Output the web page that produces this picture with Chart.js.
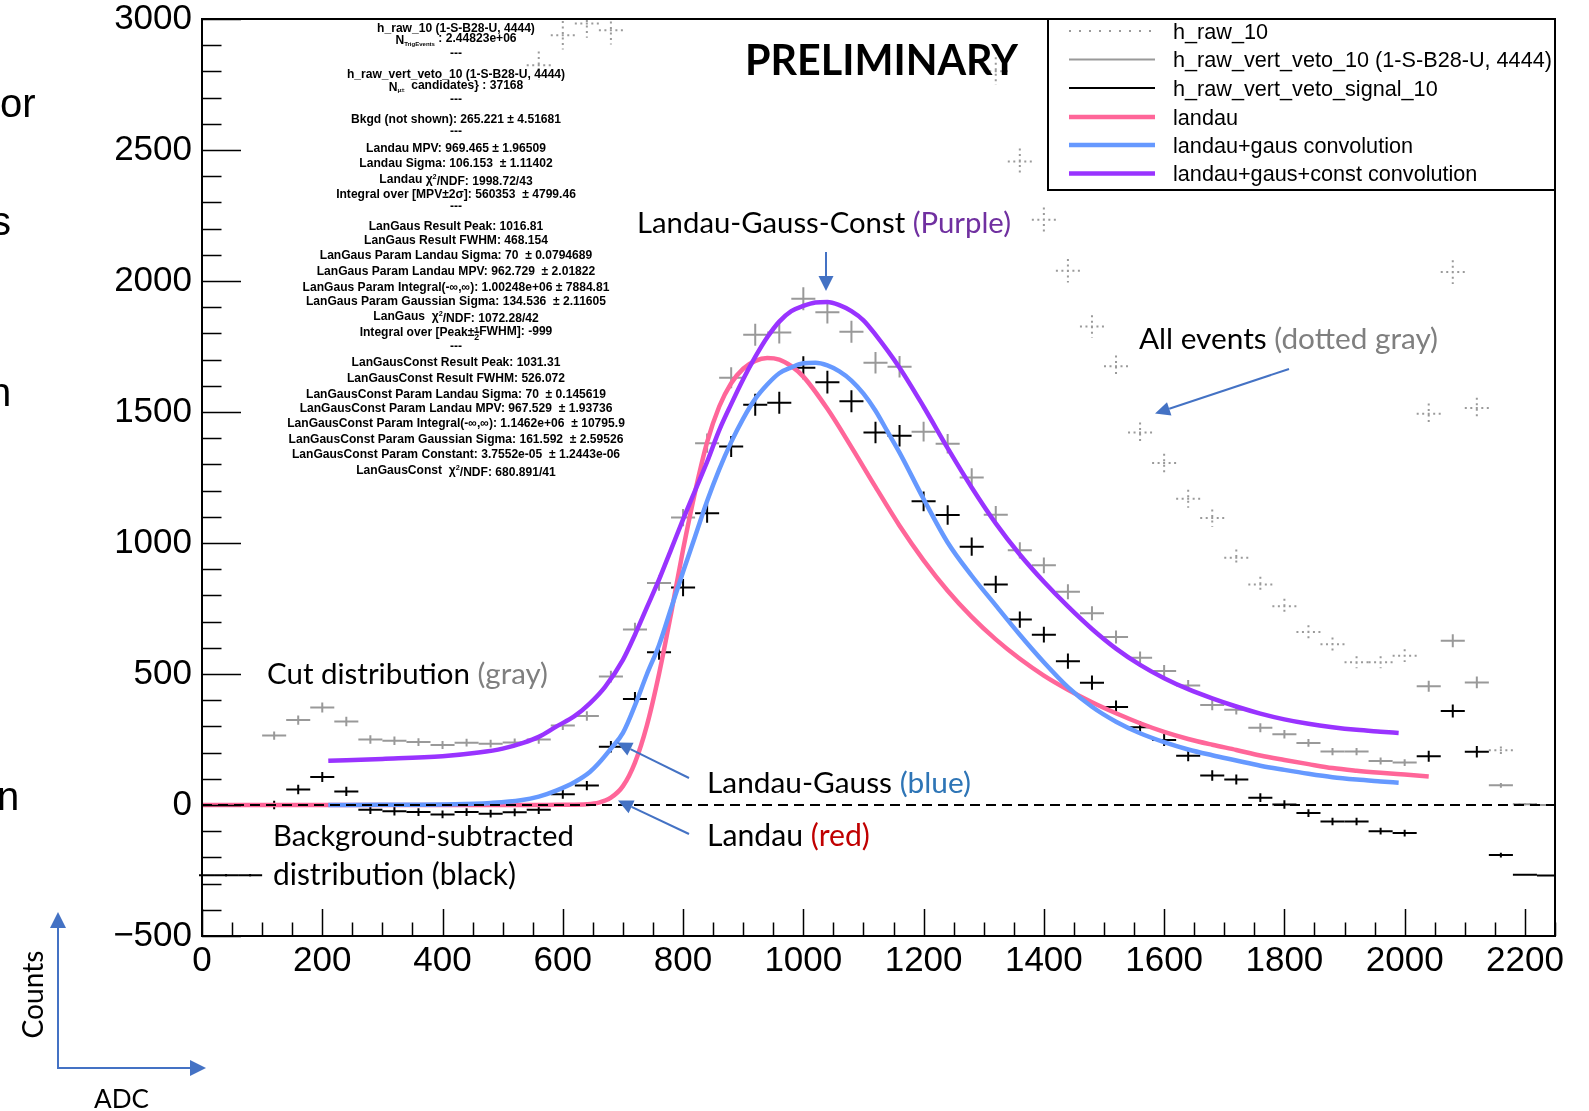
<!DOCTYPE html>
<html>
<head>
<meta charset="utf-8">
<title>Landau fits</title>
<script src="https://cdn.jsdelivr.net/npm/chart.js@4.4.1/dist/chart.umd.min.js"></script>
<style>
  html, body { margin: 0; padding: 0; background: #fff; }
  #page { position: relative; width: 1589px; height: 1111px; overflow: hidden; }
  #plot { position: absolute; left: 0; top: 0; }
  #notes { position: absolute; left: 0; top: 0; pointer-events: none; }
</style>
</head>
<body>
<div id="page">
  <canvas id="plot" width="1589" height="1111"></canvas>
  <svg id="notes" width="1589" height="1111" xmlns="http://www.w3.org/2000/svg"></svg>
</div>
<script>
// bin centres (ADC), bin width 40
const binX = [0, 40, 80, 120, 160, 200, 240, 280, 320, 360, 400, 440, 480, 520, 560, 600, 640, 680,
  720, 760, 800, 840, 880, 920, 960, 1000, 1040, 1080, 1120, 1160, 1200, 1240, 1280, 1320, 1360,
  1400, 1440, 1480, 1520, 1560, 1600, 1640, 1680, 1720, 1760, 1800, 1840, 1880, 1920, 1960, 2000,
  2040, 2080, 2120, 2160, 2200, 2240];

// gray crosses: h_raw_vert_veto_10
const cutCounts = [null, null, null, 265, 324, 372, 319, 250, 245, 240, 229, 238, 234, 239, 250, 303,
  340, 490, 670, 847, 1097, 1381, 1631, 1795, 1803, 1932, 1881, 1806, 1688, 1673, 1425, 1379, 1250,
  1108, 972, 915, 814, 732, 641, 562, 511, 456, 382, 364, 295, 270, 237, 204, 204, 168, 162, 453,
  627, 468, 75, 3, 0];

// black crosses: h_raw_vert_veto_signal_10
const signalCounts = [-268, -268, -268, 0, 59, 107, 52, -18, -24, -27, -36, -27, -33, -28, -18, 41,
  74, 222, 405, 583, 830, 1114, 1368, 1528, 1535, 1669, 1614, 1541, 1422, 1409, 1159, 1107, 986,
  842, 708, 650, 549, 467, 374, 297, 248, 188, 113, 97, 28, 2, -31, -63, -63, -100, -107, 186, 359,
  203, -191, -266, -269];

// dotted gray crosses: h_raw_10 (off scale bins left empty)
const allCounts = [null, null, null, null, null, null, null, null, null, null, null, null, null,
  null, 2823, 2938, 2983, 2957, null, null, null, null, null, null, null, null, null, null, null,
  null, null, null, null, 2801, 2456, 2234, 2039, 1826, 1675, 1422, 1305, 1169, 1095, 944, 842, 759,
  660, 614, 545, 545, 570, 1493, 2034, 1515, 209, 3, null];

// vertical error bar half heights
const binErr = [5, 5, 5, 16, 18, 19, 18, 16, 16, 15, 15, 15, 15, 15, 16, 17, 18, 22, 26, 29, 33, 37,
  40, 42, 42, 44, 43, 42, 41, 41, 38, 37, 35, 33, 31, 30, 29, 27, 25, 24, 23, 21, 20, 19, 17, 16,
  15, 14, 14, 13, 13, 21, 25, 22, 9, 2, 2];
const allErr = [0, 0, 0, 0, 0, 0, 0, 0, 0, 0, 0, 0, 0, 0, 53, 54, 55, 54, 0, 0, 0, 0, 0, 0, 0, 0, 0,
  0, 0, 0, 0, 0, 0, 53, 50, 47, 45, 43, 41, 38, 36, 34, 33, 31, 29, 28, 26, 25, 23, 23, 24, 39, 45,
  39, 14, 2, 0];

// fit curves
const landauX = [0, 560, 600, 640, 660, 680, 700, 720, 740, 760, 780, 800, 820, 840, 860, 880, 900,
  920, 940, 960, 980, 1000, 1040, 1080, 1120, 1160, 1200, 1240, 1280, 1320, 1360, 1400, 1440, 1480,
  1520, 1560, 1600, 1640, 1680, 1720, 1760, 1800, 1840, 1880, 1920, 1960, 2000, 2040];
const landauY = [0, 0, 1, 3, 9, 28, 72, 162, 305, 500, 730, 975, 1195, 1385, 1520, 1610, 1665,
  1695, 1706, 1700, 1675, 1635, 1512, 1366, 1214, 1066, 934, 818, 718, 632, 558, 494, 440, 392, 350,
  312, 279, 252, 230, 210, 189, 172, 156, 141, 131, 123, 116, 109];

const langausX = [210, 300, 420, 480, 530, 560, 590, 620, 645, 660, 680, 700, 720, 740, 760, 780,
  800, 820, 840, 860, 880, 900, 920, 940, 960, 980, 1000, 1020, 1040, 1060, 1080, 1100, 1120, 1140,
  1160, 1200, 1240, 1280, 1320, 1360, 1400, 1440, 1480, 1520, 1560, 1600, 1640, 1680, 1720, 1760,
  1800, 1840, 1880, 1920, 1960, 1990];
const langausY = [0, 1, 3, 8, 18, 32, 56, 88, 126, 160, 215, 275, 380, 500, 610, 750, 890, 1025,
  1160, 1280, 1385, 1475, 1550, 1605, 1648, 1670, 1686, 1688, 1678, 1655, 1620, 1570, 1505, 1425,
  1345, 1168, 1002, 875, 762, 650, 545, 450, 375, 318, 274, 240, 212, 190, 170, 150, 134, 119, 106,
  97, 90, 85];

const langausConstX = [210, 300, 400, 460, 500, 534, 560, 589, 620, 645, 670, 700, 720, 740, 760,
  780, 800, 820, 840, 860, 880, 900, 920, 940, 960, 980, 1000, 1020, 1040, 1060, 1080, 1100, 1120,
  1160, 1200, 1240, 1280, 1320, 1360, 1400, 1440, 1480, 1520, 1560, 1600, 1640, 1680, 1720, 1760,
  1800, 1840, 1880, 1920, 1960, 1990];
const langausConstY = [169, 176, 186, 200, 215, 237, 260, 299, 340, 388, 450, 554, 650, 755, 860,
  975, 1090, 1200, 1310, 1430, 1530, 1625, 1710, 1785, 1845, 1885, 1905, 1918, 1920, 1908, 1885,
  1850, 1795, 1669, 1520, 1362, 1212, 1075, 956, 852, 758, 672, 597, 535, 484, 442, 407, 376, 349,
  327, 310, 297, 287, 280, 275];

const xTicks = [0, 200, 400, 600, 800, 1000, 1200, 1400, 1600, 1800, 2000, 2200];
const yTicks = [-500, 0, 500, 1000, 1500, 2000, 2500, 3000];

const seriesNames = ['h_raw_10', 'h_raw_vert_veto_10 (1-S-B28-U, 4444)', 'h_raw_vert_veto_signal_10',
  'landau', 'landau+gaus convolution', 'landau+gaus+const convolution'];

const statsLines = [
  [32, 'h_raw_10 (1-S-B28-U, 4444)'],
  [44, 'N_{TrigEvents} : 2.44823e+06'],
  [57, '---'],
  [77.5, 'h_raw_vert_veto_10 (1-S-B28-U, 4444)'],
  [90.5, 'N_{\u03bc\u00b1}  candidates} : 37168'],
  [103, '---'],
  [122.5, 'Bkgd (not shown): 265.221 \u00b1 4.51681'],
  [135, '---'],
  [151.5, 'Landau MPV: 969.465 \u00b1 1.96509'],
  [166.5, 'Landau Sigma: 106.153  \u00b1 1.11402'],
  [182.5, 'Landau \u03c7^{2}/NDF: 1998.72/43'],
  [197.5, 'Integral over [MPV\u00b12\u03c3]: 560353  \u00b1 4799.46'],
  [210, '---'],
  [229.5, 'LanGaus Result Peak: 1016.81'],
  [243.5, 'LanGaus Result FWHM: 468.154'],
  [258.5, 'LanGaus Param Landau Sigma: 70  \u00b1 0.0794689'],
  [274.5, 'LanGaus Param Landau MPV: 962.729  \u00b1 2.01822'],
  [291, 'LanGaus Param Integral(-\u221e,\u221e): 1.00248e+06 \u00b1 7884.81'],
  [305, 'LanGaus Param Gaussian Sigma: 134.536  \u00b1 2.11605'],
  [319.5, 'LanGaus  \u03c7^{2}/NDF: 1072.28/42'],
  [336, 'Integral over [Peak\u00b1#halfFWHM]: -999'],
  [349.5, '---'],
  [366, 'LanGausConst Result Peak: 1031.31'],
  [382, 'LanGausConst Result FWHM: 526.072'],
  [397.5, 'LanGausConst Param Landau Sigma: 70  \u00b1 0.145619'],
  [411.5, 'LanGausConst Param Landau MPV: 967.529  \u00b1 1.93736'],
  [427, 'LanGausConst Param Integral(-\u221e,\u221e): 1.1462e+06  \u00b1 10795.9'],
  [443, 'LanGausConst Param Gaussian Sigma: 161.592  \u00b1 2.59526'],
  [458, 'LanGausConst Param Constant: 3.7552e-05  \u00b1 1.2443e-06'],
  [473.5, 'LanGausConst  \u03c7^{2}/NDF: 680.891/41']
];

const halfBin = 20;
const pts = (xs, ys) => xs.map((x, i) => ({ x: x, y: ys[i] }));

const datasets = [
  { label: 'zero', data: [{ x: 0, y: 0 }, { x: 2250, y: 0 }], borderColor: '#000', borderWidth: 2,
    borderDash: [10, 6], pointRadius: 0, order: 0 },
  { label: seriesNames[5], data: pts(langausConstX, langausConstY), borderColor: '#9933ff',
    borderWidth: 4.5, pointRadius: 0, cubicInterpolationMode: 'monotone', order: 1 },
  { label: seriesNames[4], data: pts(langausX, langausY), borderColor: '#6699ff',
    borderWidth: 4.5, pointRadius: 0, cubicInterpolationMode: 'monotone', order: 2 },
  { label: seriesNames[3], data: pts(landauX, landauY), borderColor: '#ff6699',
    borderWidth: 4.5, pointRadius: 0, cubicInterpolationMode: 'monotone', order: 3 },
  { label: seriesNames[2], data: pts(binX, signalCounts), errs: binErr, borderColor: '#000',
    borderWidth: 2, showLine: false, pointRadius: 0, order: 4 },
  { label: seriesNames[1], data: pts(binX, cutCounts), errs: binErr, borderColor: '#999',
    borderWidth: 2, showLine: false, pointRadius: 0, order: 5 },
  { label: seriesNames[0], data: pts(binX, allCounts), errs: allErr, borderColor: '#9a9a9a',
    borderWidth: 2, borderDash: [2, 3.5], legendDash: [2, 8], showLine: false, pointRadius: 0, order: 6 }
];

// ROOT style crosses: bin-wide horizontal bar + vertical error bar
const errorCrosses = {
  id: 'errorCrosses',
  beforeDatasetsDraw(chart) {
    const { ctx, chartArea: a, scales: { x, y } } = chart;
    ctx.save();
    ctx.beginPath();
    ctx.rect(a.left - 3, a.top, a.right - a.left + 3, a.bottom - a.top);
    ctx.clip();
    const list = chart.data.datasets.map((ds, i) => ({ ds, i })).filter(o => o.ds.errs)
      .sort((p, q) => q.ds.order - p.ds.order);
    list.forEach(({ ds, i }) => {
      const meta = chart.getDatasetMeta(i);
      ctx.strokeStyle = ds.borderColor;
      ctx.lineWidth = ds.borderWidth;
      ctx.setLineDash(ds.borderDash || []);
      meta.data.forEach((pt, j) => {
        const raw = ds.data[j];
        if (raw.y == null) return;
        const xl = x.getPixelForValue(raw.x - halfBin);
        const xr = x.getPixelForValue(raw.x + halfBin);
        ctx.beginPath();
        ctx.moveTo(xl, pt.y); ctx.lineTo(xr, pt.y);
        if (ds.errs[j] > 0) {
          ctx.moveTo(pt.x, y.getPixelForValue(raw.y + ds.errs[j]));
          ctx.lineTo(pt.x, y.getPixelForValue(raw.y - ds.errs[j]));
        }
        ctx.stroke();
      });
    });
    ctx.restore();
  }
};

// frame and inside tick marks
const rootFrame = {
  id: 'rootFrame',
  afterDatasetsDraw(chart) {
    const { ctx, chartArea: a, scales: { x, y } } = chart;
    ctx.save();
    ctx.strokeStyle = '#000';
    ctx.lineWidth = 2;
    ctx.setLineDash([]);
    ctx.strokeRect(a.left, a.top, a.right - a.left, a.bottom - a.top);
    ctx.lineWidth = 1.5;
    ctx.beginPath();
    for (let v = -500; v <= 3000; v += 100) {
      const py = Math.round(y.getPixelForValue(v)) + 0.5;
      ctx.moveTo(a.left, py);
      ctx.lineTo(a.left + (v % 500 === 0 ? 39 : 19.5), py);
    }
    for (let v = 0; v <= 2250; v += 50) {
      const px = Math.round(x.getPixelForValue(v)) + 0.5;
      ctx.moveTo(px, a.bottom);
      ctx.lineTo(px, a.bottom - (v % 200 === 0 ? 27 : 13.5));
    }
    ctx.stroke();
    ctx.restore();
  }
};

const tickFont = { family: '"Liberation Sans", Arial, sans-serif', size: 35 };

new Chart(document.getElementById('plot'), {
  type: 'line',
  data: { datasets: datasets },
  options: {
    responsive: false,
    animation: false,
    devicePixelRatio: 1,
    events: [],
    layout: { padding: { left: 0, right: 34, top: 19, bottom: 0 } },
    plugins: { legend: { display: false }, tooltip: { enabled: false } },
    scales: {
      x: {
        type: 'linear', min: 0, max: 2250,
        grid: { display: false, drawTicks: false }, border: { display: false },
        ticks: { font: tickFont, color: '#000', padding: 4, maxRotation: 0, autoSkip: false,
          callback: v => String(v) },
        afterBuildTicks: s => { s.ticks = xTicks.map(v => ({ value: v })); },
        afterFit: s => { s.height = 175; s.paddingLeft = 0; s.paddingRight = 0; }
      },
      y: {
        type: 'linear', min: -500, max: 3000,
        grid: { display: false, drawTicks: false }, border: { display: false },
        ticks: { font: tickFont, color: '#000', padding: 10, autoSkip: false,
          callback: v => v < 0 ? '\u2212' + Math.abs(v) : String(v) },
        afterBuildTicks: s => { s.ticks = yTicks.map(v => ({ value: v })); },
        afterFit: s => { s.width = 202; s.paddingTop = 0; s.paddingBottom = 0; }
      }
    }
  },
  plugins: [errorCrosses, rootFrame]
});

// ---------- overlay: slide annotations, stats box, legend ----------
const NS = 'http://www.w3.org/2000/svg';
const svg = document.getElementById('notes');
function el(tag, attrs, parent) {
  const e = document.createElementNS(NS, tag);
  for (const k in attrs) e.setAttribute(k, attrs[k]);
  (parent || svg).appendChild(e);
  return e;
}
function fitWidth(t, w) {
  const fs = parseFloat(t.getAttribute('font-size'));
  const len = t.getComputedTextLength();
  if (len > 0) t.setAttribute('font-size', (fs * w / len).toFixed(2));
}
function arrow(x1, y1, x2, y2, len, wid, color) {
  const dx = x2 - x1, dy = y2 - y1, d = Math.hypot(dx, dy);
  const ux = dx / d, uy = dy / d;
  const bx = x2 - ux * len, by = y2 - uy * len;
  el('line', { x1: x1, y1: y1, x2: bx, y2: by, stroke: color, 'stroke-width': 2 });
  el('polygon', { fill: color, points: [x2, y2, bx - uy * wid / 2, by + ux * wid / 2,
    bx + uy * wid / 2, by - ux * wid / 2].join(' ') });
}

// slide text cut at the left edge
[['or', 0, 117], ['s', -9, 235], ['n', -11, 406], ['n', -3, 810]].forEach(([s, x, y]) => {
  const t = el('text', { x: x, y: y, 'font-family': 'Liberation Sans, Arial', 'font-size': 40, fill: '#000' });
  t.textContent = s;
});

const notes = [
  { parts: [['PRELIMINARY', '#000']], x: 745, y: 75, w: 273, weight: 700 },
  { parts: [['Landau-Gauss-Const ', '#000'], ['(Purple)', '#7030a0']], x: 637, y: 233, w: 374 },
  { parts: [['All events ', '#000'], ['(dotted gray)', '#7f7f7f']], x: 1139, y: 349, w: 299 },
  { parts: [['Cut distribution ', '#000'], ['(gray)', '#7f7f7f']], x: 267, y: 684, w: 281 },
  { parts: [['Landau-Gauss ', '#000'], ['(blue)', '#2e75b6']], x: 707, y: 793, w: 264 },
  { parts: [['Landau ', '#000'], ['(red)', '#c00000']], x: 707, y: 846, w: 163 },
  { parts: [['Background-subtracted', '#000']], x: 273, y: 846, w: 301 },
  { parts: [['distribution (black)', '#000']], x: 273, y: 885, w: 243 }
];
notes.forEach(n => {
  const t = el('text', { x: n.x, y: n.y, 'font-family': 'Lato, "Open Sans", sans-serif',
    'font-size': 28, 'font-weight': n.weight || 400, style: 'white-space:pre' });
  n.parts.forEach(([s, c]) => { const sp = el('tspan', { fill: c }, t); sp.textContent = s; });
  fitWidth(t, n.w);
});

const counts = el('text', { x: 42.5, y: 994.5, 'text-anchor': 'middle', transform: 'rotate(-90 42.5 994.5)',
  'font-family': 'Lato, sans-serif', 'font-size': 27, fill: '#000' });
counts.textContent = 'Counts';
fitWidth(counts, 88);
const adc = el('text', { x: 121.5, y: 1108, 'text-anchor': 'middle', 'font-family': 'Lato, sans-serif',
  'font-size': 26, fill: '#000' });
adc.textContent = 'ADC';
fitWidth(adc, 55);

const blue = '#4472c4';
arrow(826, 252, 826, 291, 15, 15, blue);
arrow(1289, 369, 1155, 413.5, 15, 14, blue);
arrow(689, 778, 617, 742.5, 15, 14, blue);
arrow(689, 834, 618, 800.5, 15, 14, blue);
el('polyline', { points: '58,925 58,1068 192,1068', fill: 'none', stroke: blue, 'stroke-width': 2 });
arrow(58, 1000, 58, 912, 16, 16, blue);
arrow(120, 1068, 206, 1068, 16, 16, blue);

// stats box
const statsGroup = el('g', { 'font-family': '"Liberation Sans", Arial, sans-serif', 'font-weight': 700,
  'font-size': 12, fill: '#000' });
const fracBars = [];
statsLines.forEach(([by, str]) => {
  const t = el('text', { x: 456, y: by, 'text-anchor': 'middle', style: 'white-space:pre' }, statsGroup);
  const parts = str.split(/(_\{[^}]*\}|\^\{[^}]*\}|#half)/).filter(s => s !== '');
  let shift = 0, idx = 0;
  parts.forEach(p => {
    if (p.startsWith('_{')) {
      const sp = el('tspan', { 'font-size': '50%', dy: (0.33 - shift) + 'em' }, t);
      sp.textContent = p.slice(2, -1); idx += p.length - 3;
      shift = 0.33;
    } else if (p.startsWith('^{')) {
      const sp = el('tspan', { 'font-size': '60%', dy: (-0.42 - shift) + 'em' }, t);
      sp.textContent = p.slice(2, -1); shift = -0.42; idx += p.length - 3;
    } else if (p === '#half') {
      const a = el('tspan', { 'font-size': '72%', dy: (-0.36 - shift) + 'em' }, t);
      a.textContent = '1';
      const b = el('tspan', { 'font-size': '72%', dx: '-0.556em', dy: '0.78em' }, t);
      b.textContent = '2';
      fracBars.push({ t, idx, by }); idx += 2; shift = 0.42;
    } else {
      const sp = el('tspan', { dy: (-shift) + 'em' }, t);
      sp.textContent = p; shift = 0; idx += p.length;
    }
  });
});
// calibrate stats font from the background line
const bkgLine = statsGroup.childNodes[6];
const scale = 210 / bkgLine.getComputedTextLength();
statsGroup.setAttribute('font-size', (12 * scale).toFixed(2));
fracBars.forEach(f => {
  const e = f.t.getExtentOfChar(f.idx);
  el('line', { x1: e.x - 0.5, x2: e.x + e.width + 0.5, y1: f.by - 4, y2: f.by - 4, stroke: '#000', 'stroke-width': 1 });
});

// legend box
el('rect', { x: 1048, y: 19, width: 507, height: 171, fill: '#fff', stroke: '#000', 'stroke-width': 2 });
const rowY = [31, 59.5, 88, 117, 145, 173.5];
let widest = null;
seriesNames.forEach((name, k) => {
  const ds = datasets.find(d => d.label === name);
  el('line', { x1: 1069, x2: 1155, y1: rowY[k], y2: rowY[k], stroke: ds.borderColor,
    'stroke-width': ds.borderWidth, 'stroke-dasharray': (ds.legendDash || ds.borderDash || []).join(' ') || 'none' });
  const t = el('text', { x: 1173, y: rowY[k] + 7.7, 'font-family': '"Liberation Sans", Arial, sans-serif',
    'font-size': 21.6, fill: '#000' });
  t.textContent = name;
  if (k === 1) widest = t;
});
const legendFs = 21.6 * 379 / widest.getComputedTextLength();
svg.querySelectorAll('text[x="1173"]').forEach(t => t.setAttribute('font-size', legendFs.toFixed(2)));
</script>
</body>
